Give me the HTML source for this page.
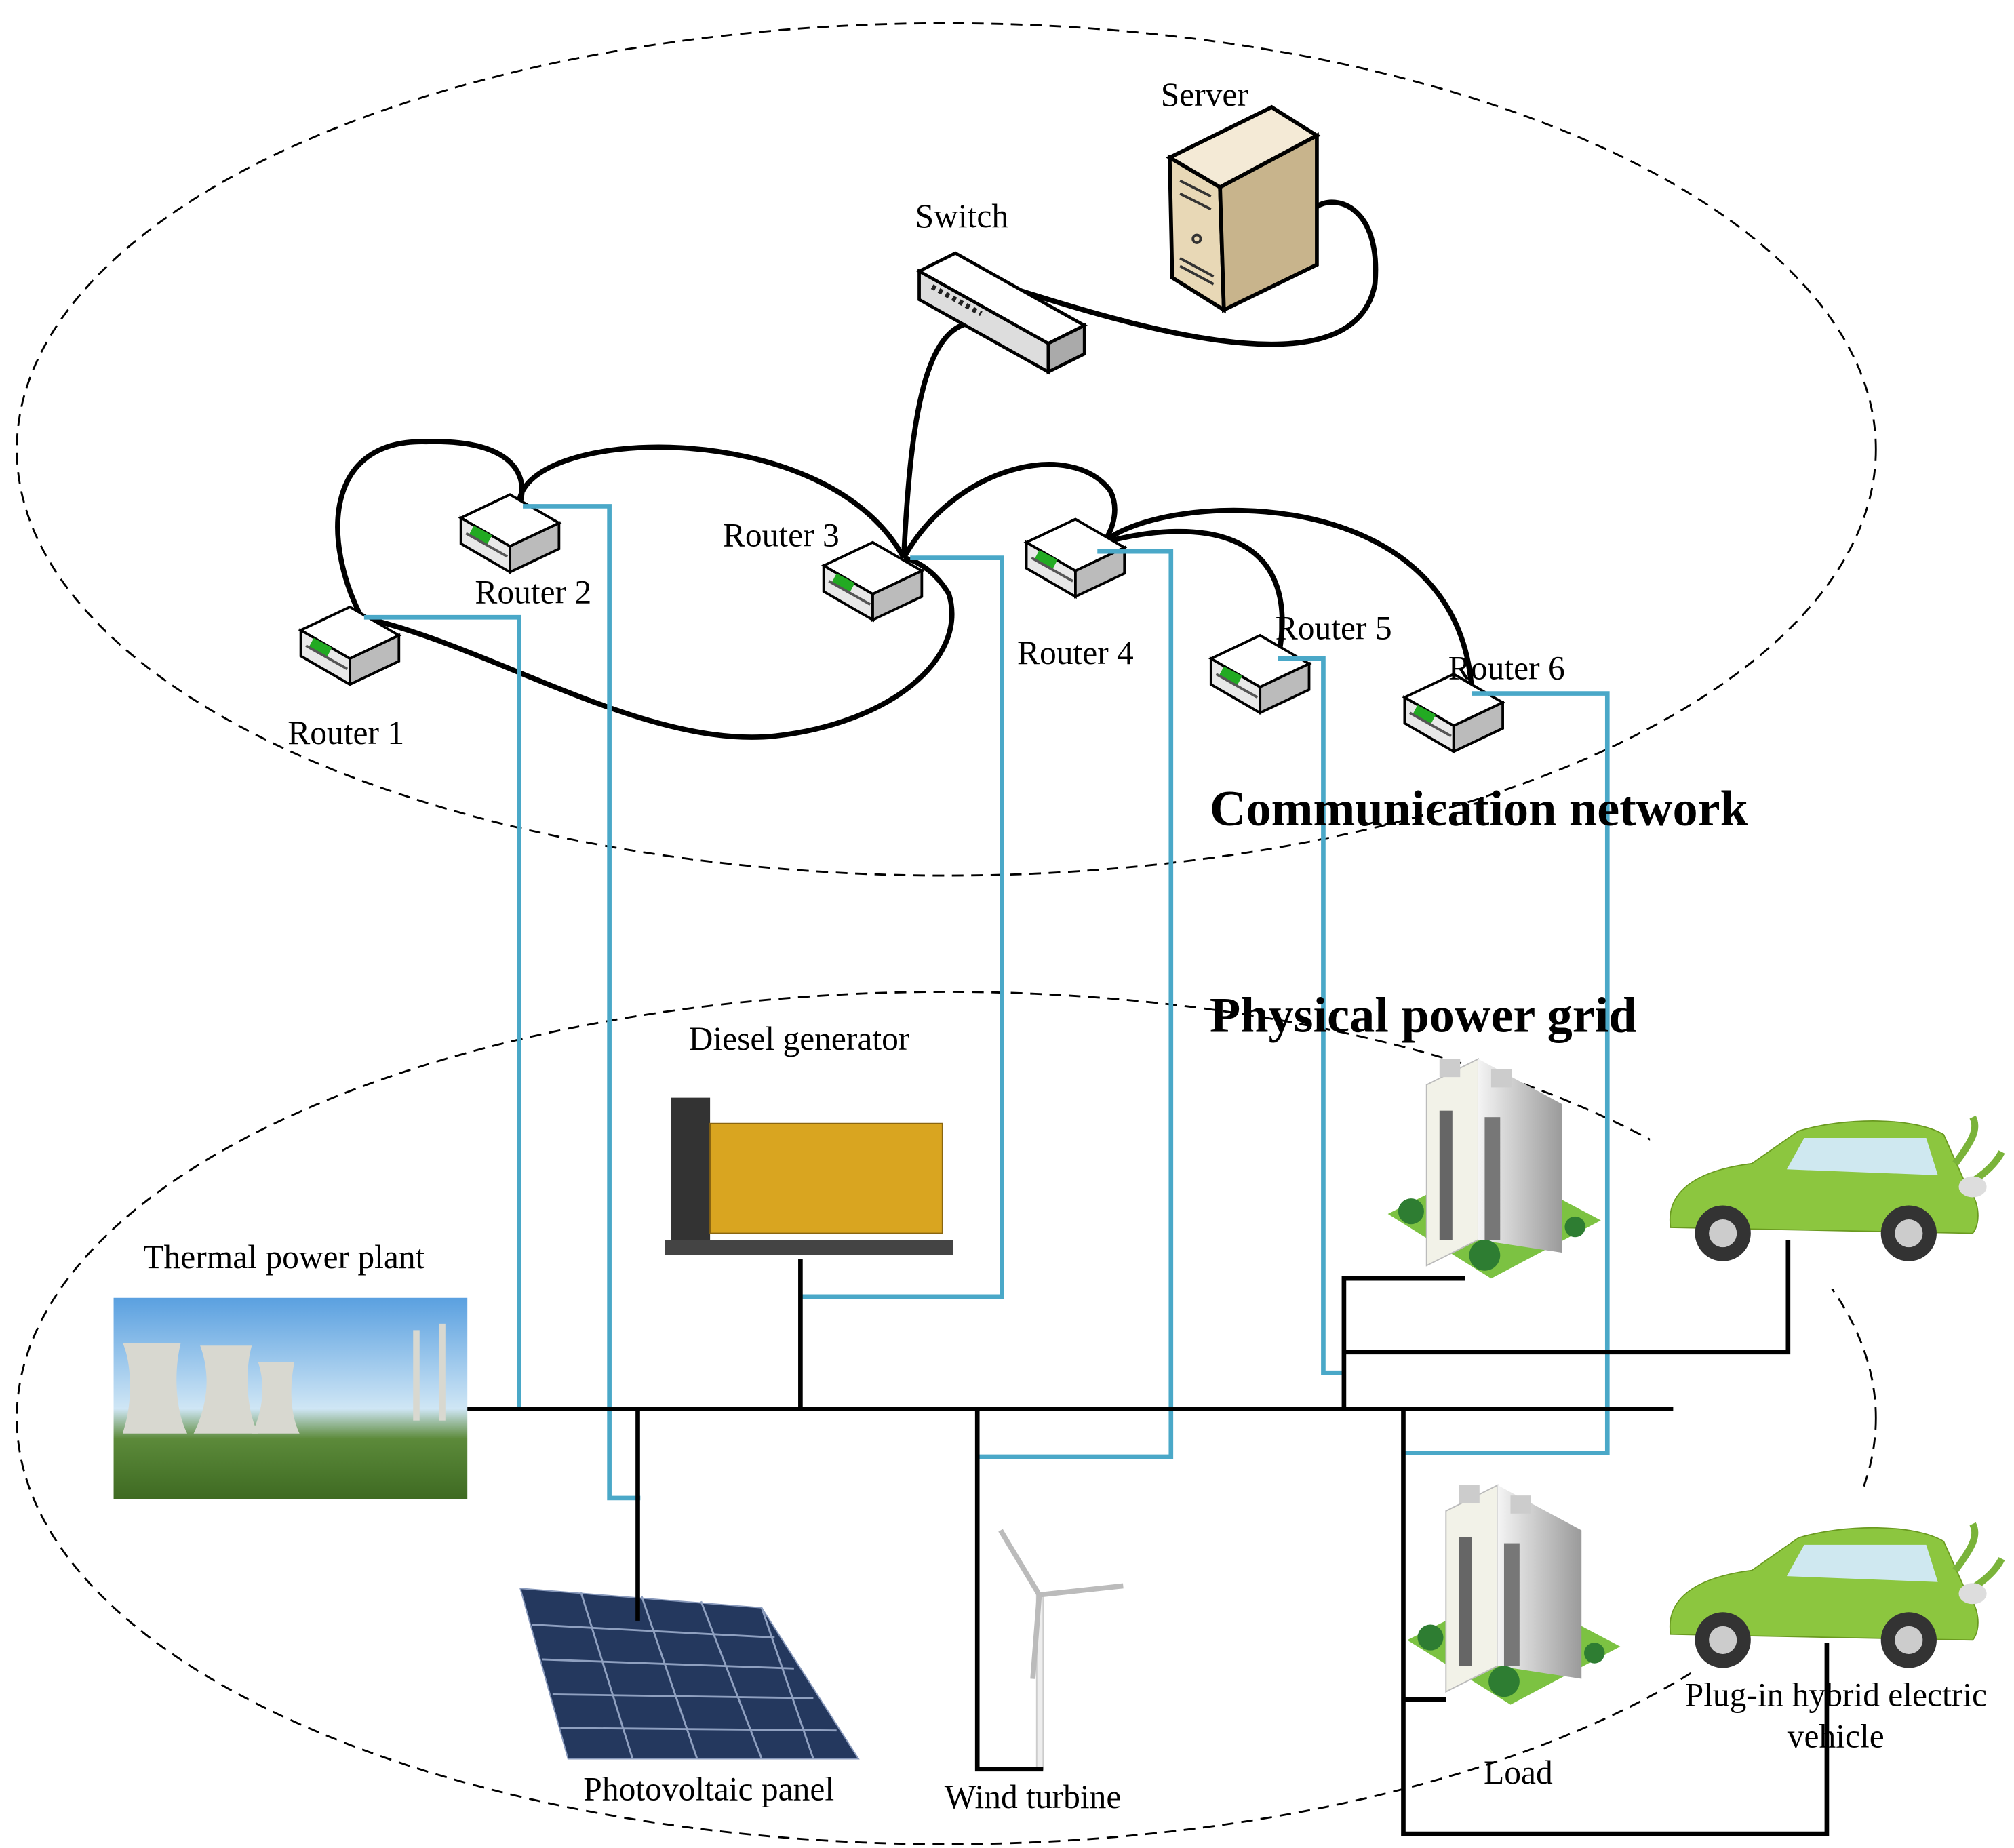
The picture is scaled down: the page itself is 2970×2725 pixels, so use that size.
<!DOCTYPE html>
<html><head><meta charset="utf-8"><style>
html,body{margin:0;padding:0;background:#fff;}
svg{display:block;}
text{font-family:"Liberation Serif",serif;font-size:26px;fill:#000;}
</style></head><body>
<svg width="2970" height="2725" viewBox="0 0 1560 1431" preserveAspectRatio="none" xmlns="http://www.w3.org/2000/svg">
<defs>
<clipPath id="c1"><rect x="1278" y="840" width="280" height="158"/></clipPath>
<clipPath id="c2"><rect x="1278" y="1155" width="280" height="140"/></clipPath>
<g id="router">
<polygon points="0,18 38,0 76,22 38,40" fill="#fff" stroke="#000" stroke-width="2"/>
<polygon points="0,18 38,40 38,60 0,38" fill="#e8e8e8" stroke="#000" stroke-width="2"/>
<polygon points="38,40 76,22 76,42 38,60" fill="#bbb" stroke="#000" stroke-width="2"/>
<rect x="10" y="24" width="16" height="8" fill="#2a2" transform="rotate(28 10 24)"/>
<path d="M4,30 L36,48" stroke="#555" stroke-width="2"/>
</g>
<linearGradient id="sky" x1="0" y1="0" x2="0" y2="1"><stop offset="0" stop-color="#5aa0e0"/><stop offset="0.55" stop-color="#cfe6f5"/><stop offset="0.7" stop-color="#5c8a3a"/><stop offset="1" stop-color="#3e6a22"/></linearGradient>
<linearGradient id="bld" x1="0" x2="1"><stop offset="0" stop-color="#f4f4f4"/><stop offset="1" stop-color="#9a9a9a"/></linearGradient>
<g id="car">
<path d="M10,95 C5,60 40,45 80,40 L120,12 C160,0 220,0 245,15 L265,60 C275,70 278,90 270,100 Z" fill="#8cc63f" stroke="#6a9a20"/>
<path d="M125,18 L110,45 L240,50 L230,18 Z" fill="#cfe8f0"/>
<circle cx="55" cy="100" r="24" fill="#333"/><circle cx="55" cy="100" r="12" fill="#ccc"/>
<circle cx="215" cy="100" r="24" fill="#333"/><circle cx="215" cy="100" r="12" fill="#ccc"/>
<path d="M255,40 C270,20 275,10 270,0 M262,60 C280,50 290,40 295,30" stroke="#7ab33a" stroke-width="6" fill="none"/>
<ellipse cx="270" cy="60" rx="12" ry="9" fill="#ddd"/>
</g>
<g id="building">
<polygon points="0,120 80,80 165,125 80,170" fill="#7cc242"/>
<polygon points="30,20 70,0 70,140 30,160" fill="#f2f2e8" stroke="#bbb"/>
<polygon points="70,0 135,35 135,150 70,140" fill="url(#bld)"/>
<rect x="40" y="40" width="10" height="100" fill="#666"/><rect x="75" y="45" width="12" height="95" fill="#777"/>
<circle cx="18" cy="118" r="10" fill="#2e7d32"/><circle cx="75" cy="152" r="12" fill="#2e7d32"/><circle cx="145" cy="130" r="8" fill="#2e7d32"/>
<rect x="40" y="0" width="16" height="14" fill="#ccc"/><rect x="80" y="8" width="16" height="14" fill="#ccc"/>
</g>
</defs>

<ellipse cx="733" cy="348" rx="720" ry="330" fill="none" stroke="#000" stroke-width="1.5" stroke-dasharray="9,6"/>
<ellipse cx="733" cy="1098" rx="720" ry="330" fill="none" stroke="#000" stroke-width="1.5" stroke-dasharray="9,6"/>

<g fill="none" stroke="#000" stroke-width="4">
<path d="M280,478 C250,420 250,340 330,342 C400,340 410,370 402,392"/>
<path d="M402,392 C400,330 640,320 700,432"/>
<path d="M280,478 C380,500 500,580 600,570 C690,560 750,510 735,460 C720,435 700,432 700,432"/>
<path d="M700,432 C705,330 715,255 752,250"/>
<path d="M700,432 C740,360 830,340 860,380 C870,400 855,420 855,420"/>
<path d="M855,420 C930,400 1010,410 990,510"/>
<path d="M855,420 C900,380 1130,370 1140,535"/>
<path d="M790,225 C900,260 1050,300 1065,220 C1070,160 1035,150 1020,160"/>
</g>

<polygon points="906,122 985,83 1020,105 945,145" fill="#f4ead6" stroke="#000" stroke-width="3"/>
<polygon points="906,122 945,145 948,240 908,215" fill="#e8d8b6" stroke="#000" stroke-width="3"/>
<polygon points="945,145 1020,105 1020,205 948,240" fill="#c8b48c" stroke="#000" stroke-width="3"/>
<path d="M914,140 L938,152 M914,150 L938,162 M914,200 L940,214 M914,206 L940,220" stroke="#333" stroke-width="2"/>
<circle cx="927" cy="185" r="3" fill="none" stroke="#333" stroke-width="2"/>
<polygon points="712,210 740,196 840,252 812,266" fill="#fff" stroke="#000" stroke-width="2.5"/>
<polygon points="712,210 812,266 812,288 712,232" fill="#ddd" stroke="#000" stroke-width="2.5"/>
<polygon points="812,266 840,252 840,274 812,288" fill="#aaa" stroke="#000" stroke-width="2.5"/>
<path d="M722,222 L760,243" stroke="#222" stroke-width="4" stroke-dasharray="3,3"/>

<use href="#router" x="233" y="470"/>
<use href="#router" x="357" y="383"/>
<use href="#router" x="638" y="420"/>
<use href="#router" x="795" y="402"/>
<use href="#router" x="938" y="492"/>
<use href="#router" x="1088" y="522"/>

<rect x="88" y="1005" width="274" height="156" fill="url(#sky)"/>
<g fill="#d8d8d0"><path d="M95,1110 C105,1080 100,1050 95,1040 L140,1040 C135,1060 135,1090 145,1110 Z"/><path d="M150,1110 C165,1080 160,1055 155,1042 L195,1042 C190,1060 190,1090 200,1110Z"/><path d="M195,1110 C205,1090 205,1070 200,1055 L228,1055 C224,1075 225,1095 232,1110Z"/><rect x="320" y="1030" width="5" height="70"/><rect x="340" y="1025" width="5" height="75"/></g>
<rect x="520" y="850" width="30" height="120" fill="#333"/>
<rect x="550" y="870" width="180" height="85" fill="#d9a520" stroke="#8a6510"/>
<rect x="515" y="960" width="223" height="12" fill="#444"/>
<polygon points="403,1230 590,1245 665,1362 440,1362" fill="#24385e" stroke="#8899bb"/>
<g stroke="#8fa0c0" stroke-width="1.5"><path d="M412,1258 L600,1268 M420,1285 L615,1292 M428,1312 L630,1315 M434,1338 L648,1340 M450,1233 L490,1362 M497,1236 L540,1362 M543,1240 L590,1362 M590,1245 L630,1362"/></g>
<g stroke="#ccc" fill="#eee"><rect x="803" y="1235" width="5" height="135"/><path d="M805,1235 L775,1185 M805,1235 L870,1228 M805,1235 L800,1300" stroke="#bbb" stroke-width="4"/></g>
<use href="#building" x="1075" y="820"/>
<use href="#building" x="1090" y="1150"/>
<rect x="1278" y="840" width="280" height="158" fill="#fff"/>
<g clip-path="url(#c1)"><use href="#car" transform="translate(1285,865) scale(0.9)"/></g>
<rect x="1278" y="1155" width="280" height="140" fill="#fff"/>
<g clip-path="url(#c2)"><use href="#car" transform="translate(1285,1180) scale(0.9)"/></g>

<g fill="none" stroke="#4aa8c8" stroke-width="3.5">
<path d="M282,478 H402 V1092"/>
<path d="M405,392 H472 V1160 H496"/>
<path d="M705,432 H776 V1004 H620"/>
<path d="M850,427 H907 V1128 H757"/>
<path d="M990,510 H1025 V1063 H1041"/>
<path d="M1140,537 H1245 V1125 H1087"/>
</g>

<g fill="none" stroke="#000" stroke-width="3.5">
<path d="M362,1091 H1296"/>
<path d="M620,975 V1091"/>
<path d="M494,1091 V1255"/>
<path d="M757,1091 V1370 H808"/>
<path d="M1041,1091 V990 H1135"/>
<path d="M1041,1047 H1385 V960"/>
<path d="M1087,1091 V1420 H1415 V1272"/>
<path d="M1087,1316 H1120"/>
</g>

<g text-anchor="middle">
<text x="933" y="82">Server</text>
<text x="745" y="176">Switch</text>
<text x="605" y="423">Router 3</text>
<text x="413" y="467">Router 2</text>
<text x="268" y="576">Router 1</text>
<text x="833" y="514">Router 4</text>
<text x="1033" y="495">Router 5</text>
<text x="1167" y="526">Router 6</text>
<text x="619" y="813">Diesel generator</text>
<text x="220" y="982">Thermal power plant</text>
<text x="549" y="1394">Photovoltaic panel</text>
<text x="800" y="1400">Wind turbine</text>
<text x="1176" y="1381">Load</text>
<text x="1422" y="1321">Plug-in hybrid electric</text>
<text x="1422" y="1353">vehicle</text>
</g>
<text x="937" y="639" style="font-size:39px;font-weight:bold">Communication network</text>
<text x="937" y="799" style="font-size:39px;font-weight:bold">Physical power grid</text>
</svg>
</body></html>
